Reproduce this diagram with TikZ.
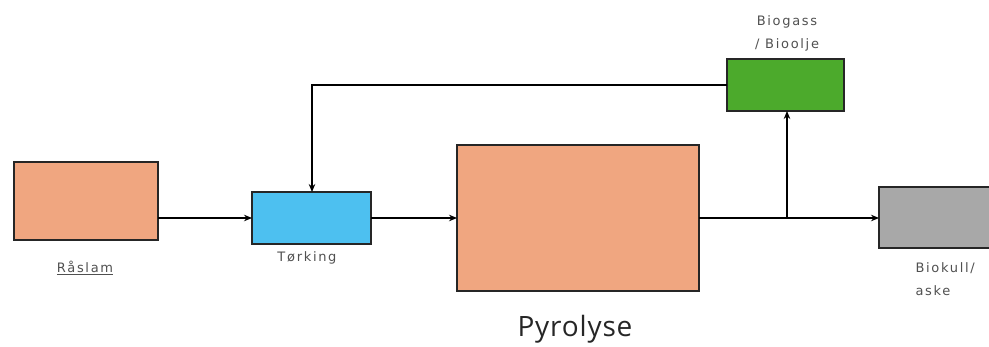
\documentclass[tikz,border=0pt]{standalone}
\usepackage{fontspec}
\setmainfont{Carlito}
\newfontfamily\lblfont[LetterSpace=13]{DejaVu Sans}
\newfontfamily\bigfont[LetterSpace=3]{Open Sans}
\usetikzlibrary{arrows.meta}
\definecolor{salmon}{HTML}{F0A680}
\definecolor{skyb}{HTML}{4DC0F0}
\definecolor{grn}{HTML}{4CAA2C}
\definecolor{gry}{HTML}{A8A8A8}
\definecolor{txt}{HTML}{505050}
\begin{document}
\begin{tikzpicture}[x=1pt,y=-1pt,
  box/.style={draw=black!85,line width=1.6pt,inner sep=0pt,outer sep=0pt},
  lbl/.style={font=\lblfont\fontsize{13}{23}\selectfont,text=txt,align=center},
  conn/.style={line width=1.4pt,-{Stealth[length=8pt,width=6.5pt]}}]
\useasboundingbox (0,0) rectangle (989,347);
\clip (0,0) rectangle (989,347);
\node[box,fill=salmon,minimum width=144pt,minimum height=78pt] (ra) at (86,201) {};
\node[box,fill=skyb,minimum width=119pt,minimum height=52pt] (tk) at (311.5,218) {};
\node[box,fill=salmon,minimum width=242pt,minimum height=146pt] (py) at (578,218) {};
\node[box,fill=grn,minimum width=117pt,minimum height=52pt] (bg) at (785.5,85) {};
\node[box,fill=gry,minimum width=140pt,minimum height=61pt] (bk) at (949,217.5) {};
\node[lbl] (lra) at (85,268) {\underline{Råslam}};
\node[lbl] (ltk) at (307,258) {Tørking};
\node[font=\bigfont\fontsize{28}{32}\selectfont,text=black!85] (lpy) at (575,329) {Pyrolyse};
\node[lbl] (lbg) at (787,33) {Biogass\\/ Bioolje};
\node[lbl,align=left,anchor=west] (lbk) at (912,279) {Biokull/\\aske};
\coordinate (br) at (787,218);
\coordinate (tp) at (312,85);
\draw[conn] (ra.east |- 0,218) -- (tk.west |- 0,218);
\draw[conn] (tk.east |- 0,218) -- (py.west |- 0,218);
\draw[conn] (py.east |- 0,218) -- (bk.west |- 0,218);
\draw[conn] (br) -- (bg.south -| br);
\draw[conn] (bg.west) -- (tp) -- (tk.north -| tp);
\end{tikzpicture}
\end{document}
